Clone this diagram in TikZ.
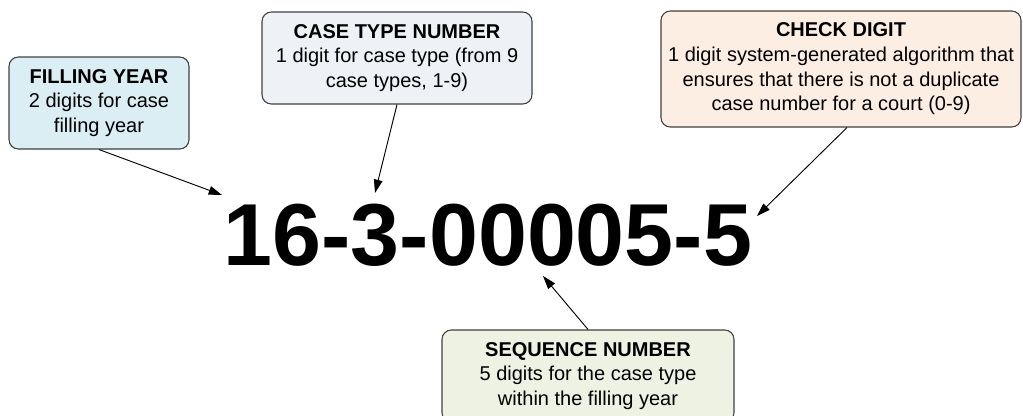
\documentclass[tikz,border=0pt]{standalone}
\usepackage{fontspec}
\setmainfont{Liberation Sans}
\usetikzlibrary{arrows.meta}

\definecolor{yearblue}{HTML}{DAEEF3}
\definecolor{typegray}{HTML}{EEF2F6}
\definecolor{checkorange}{HTML}{FDEEE4}
\definecolor{seqgreen}{HTML}{EEF2E3}
\definecolor{boxline}{HTML}{404040}

\begin{document}
\begin{tikzpicture}[x=0.75pt, y=-0.75pt,
  infobox/.style={draw=boxline, line width=0.8pt, rounded corners=7pt, align=center,
    inner sep=0pt, font=\fontsize{15}{18.5}\selectfont},
  pointer/.style={-{Triangle[length=10pt,width=6.5pt]}, line width=0.7pt}]
% Frame
\useasboundingbox (0,0) rectangle (1023,415);
% Case number
\node[font=\fontsize{66}{66}\selectfont\bfseries] (num) at (488,235) {16-3-00005-5};
% Boxes
\node[infobox, fill=yearblue, minimum width=135pt, minimum height=69pt] (year) at (99,103)
  {\textbf{FILLING YEAR}\\2 digits for case\\filling year};
\node[infobox, fill=typegray, minimum width=202.5pt, minimum height=69pt] (type) at (397,58)
  {\textbf{CASE TYPE NUMBER}\\1 digit for case type (from 9\\case types, 1-9)};
\node[infobox, fill=checkorange, minimum width=270pt, minimum height=87pt] (check) at (841,69)
  {\textbf{CHECK DIGIT}\\1 digit system-generated algorithm that\\ensures that there is not a duplicate\\case number for a court (0-9)};
\node[infobox, fill=seqgreen, minimum width=219pt, minimum height=69pt] (seq) at (588,376)
  {\textbf{SEQUENCE NUMBER}\\5 digits for the case type\\within the filling year};
% Arrow tips
\coordinate (yeartip) at (222,195);
\coordinate (typetip) at (375,193);
\coordinate (checktip) at (757,216);
\coordinate (seqtip) at (543,276);
% Arrows
\draw[pointer] (year.south) -- (yeartip);
\draw[pointer] (type.south) -- (typetip);
\draw[pointer] ([xshift=4.5pt]check.south) -- (checktip);
\draw[pointer] (seq.north) -- (seqtip);
\end{tikzpicture}
\end{document}
